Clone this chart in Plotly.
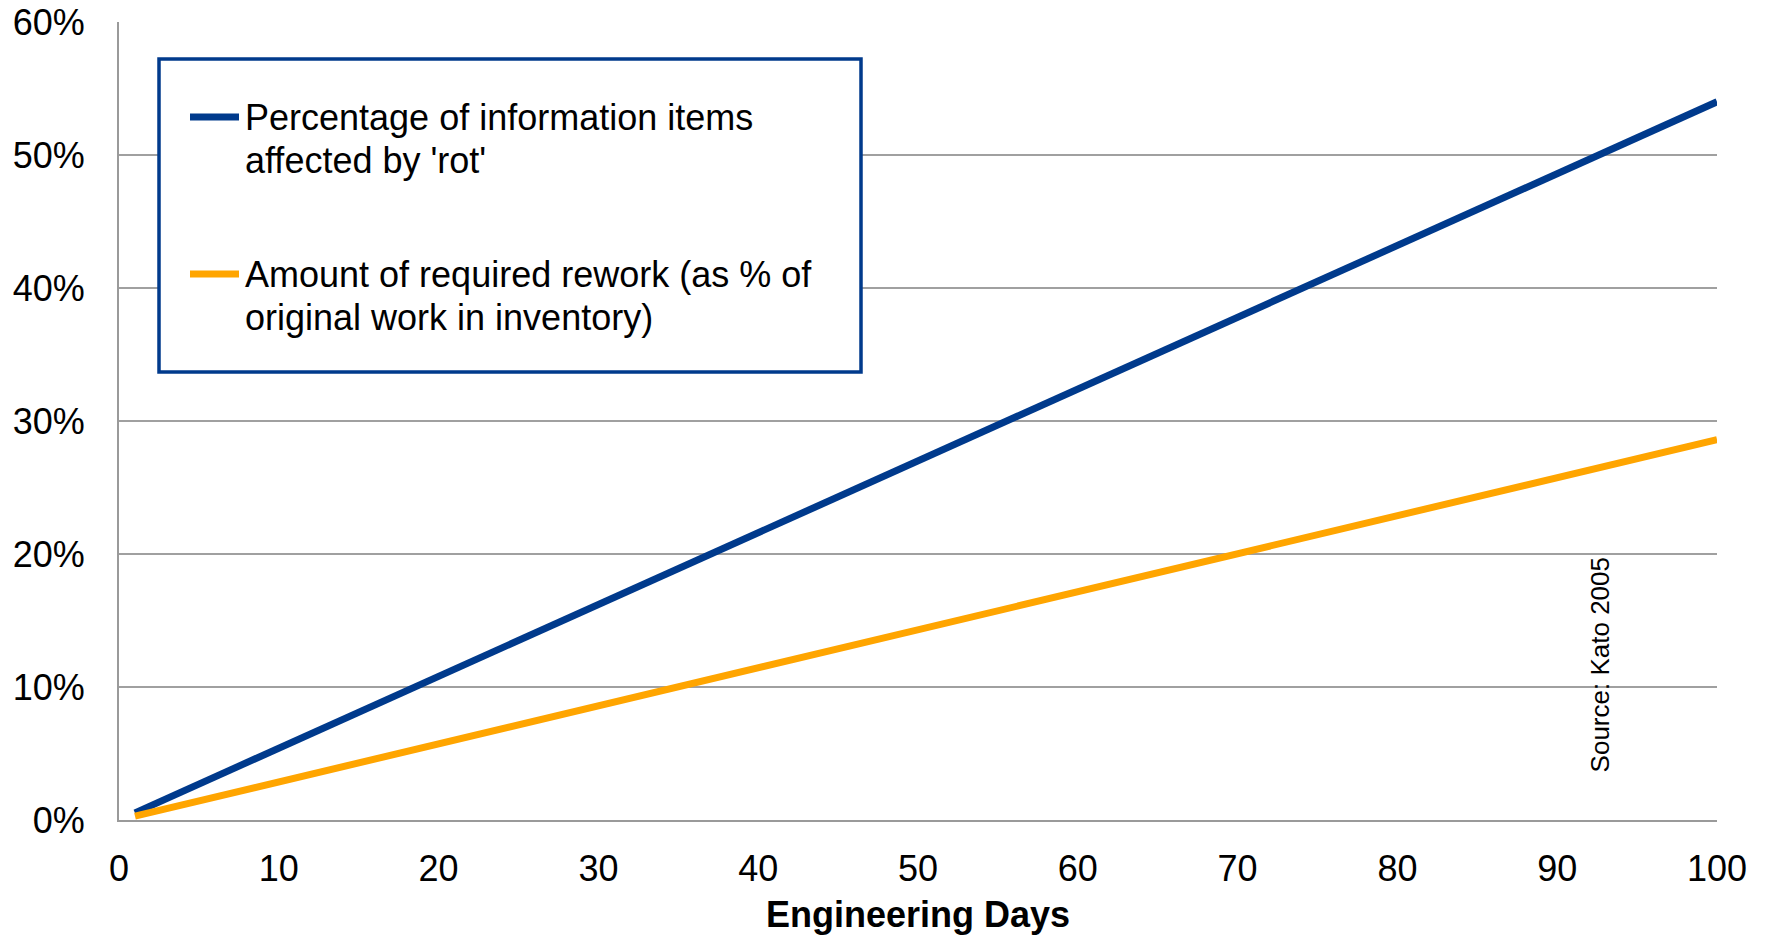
import plotly.graph_objects as go

# Engineering days at the start and end of each series
days = [1, 100]
# Share of information items affected by 'rot'
rot_share = [0.0054, 0.540]
# Required rework as a share of the original work in inventory
rework_share = [0.0029, 0.286]

x_ticks = [0, 10, 20, 30, 40, 50, 60, 70, 80, 90, 100]
y_ticks = [0, 0.1, 0.2, 0.3, 0.4, 0.5, 0.6]

rot_lines = ["Percentage of information items", "affected by 'rot'"]
rework_lines = ["Amount of required rework (as % of", "original work in inventory)"]

BLUE = "#003A8C"
ORANGE = "#FFA500"
FONT = "Liberation Sans, Arial, sans-serif"

fig = go.Figure()
fig.add_trace(go.Scatter(x=days, y=rot_share, mode="lines", name=" ".join(rot_lines),
                         line=dict(color=BLUE, width=7), showlegend=False))
fig.add_trace(go.Scatter(x=days, y=rework_share, mode="lines", name=" ".join(rework_lines),
                         line=dict(color=ORANGE, width=7), showlegend=False))

W, H = 1767, 935
ml, mr, mt, mb = 119, 50, 22, 115
pw, ph = W - ml - mr, H - mt - mb


def px_x(p):
    return (p - ml) / pw


def px_y(p):
    return (H - mb - p) / ph


# Legend box drawn in paper space
shapes = [
    dict(type="rect", xref="paper", yref="paper",
         x0=px_x(159), x1=px_x(861), y0=px_y(372), y1=px_y(59),
         line=dict(color=BLUE, width=3.5), fillcolor="white", layer="above"),
]
annotations = []
LINE_GAP = 43
for color, lines, ypix in [(BLUE, rot_lines, 117), (ORANGE, rework_lines, 274)]:
    shapes.append(dict(type="line", xref="paper", yref="paper",
                       x0=px_x(190), x1=px_x(239), y0=px_y(ypix), y1=px_y(ypix),
                       line=dict(color=color, width=7), layer="above"))
    for i, txt in enumerate(lines):
        annotations.append(dict(xref="paper", yref="paper", x=px_x(243),
                                y=px_y(ypix + i * LINE_GAP),
                                xanchor="left", yanchor="middle", align="left",
                                text=txt, showarrow=False,
                                font=dict(family=FONT, size=36, color="black")))

annotations.append(dict(x=92.7, y=0.1165, xref="x", yref="y", text="Source: Kato 2005",
                        textangle=-90, showarrow=False,
                        font=dict(family=FONT, size=26, color="black")))

fig.update_layout(
    width=W, height=H,
    margin=dict(l=ml, r=mr, t=mt, b=mb, autoexpand=False),
    paper_bgcolor="white", plot_bgcolor="white",
    font=dict(family=FONT, size=36, color="black"),
    shapes=shapes, annotations=annotations,
    xaxis=dict(range=[0, 100], tickvals=x_ticks, showgrid=False, automargin=False,
               showline=True, linecolor="#9a9a9a", linewidth=2,
               ticks="", ticklabelstandoff=16, zeroline=False,
               title=dict(text="<b>Engineering Days</b>", standoff=14,
                          font=dict(family=FONT, size=36))),
    yaxis=dict(range=[0, 0.6], tickvals=y_ticks, tickformat=".0%", automargin=False,
               showgrid=True, gridcolor="#a0a0a0", gridwidth=1.5,
               showline=True, linecolor="#9a9a9a", linewidth=2,
               ticks="", ticklabelstandoff=25, zeroline=False),
)

fig.write_html("out.html")
